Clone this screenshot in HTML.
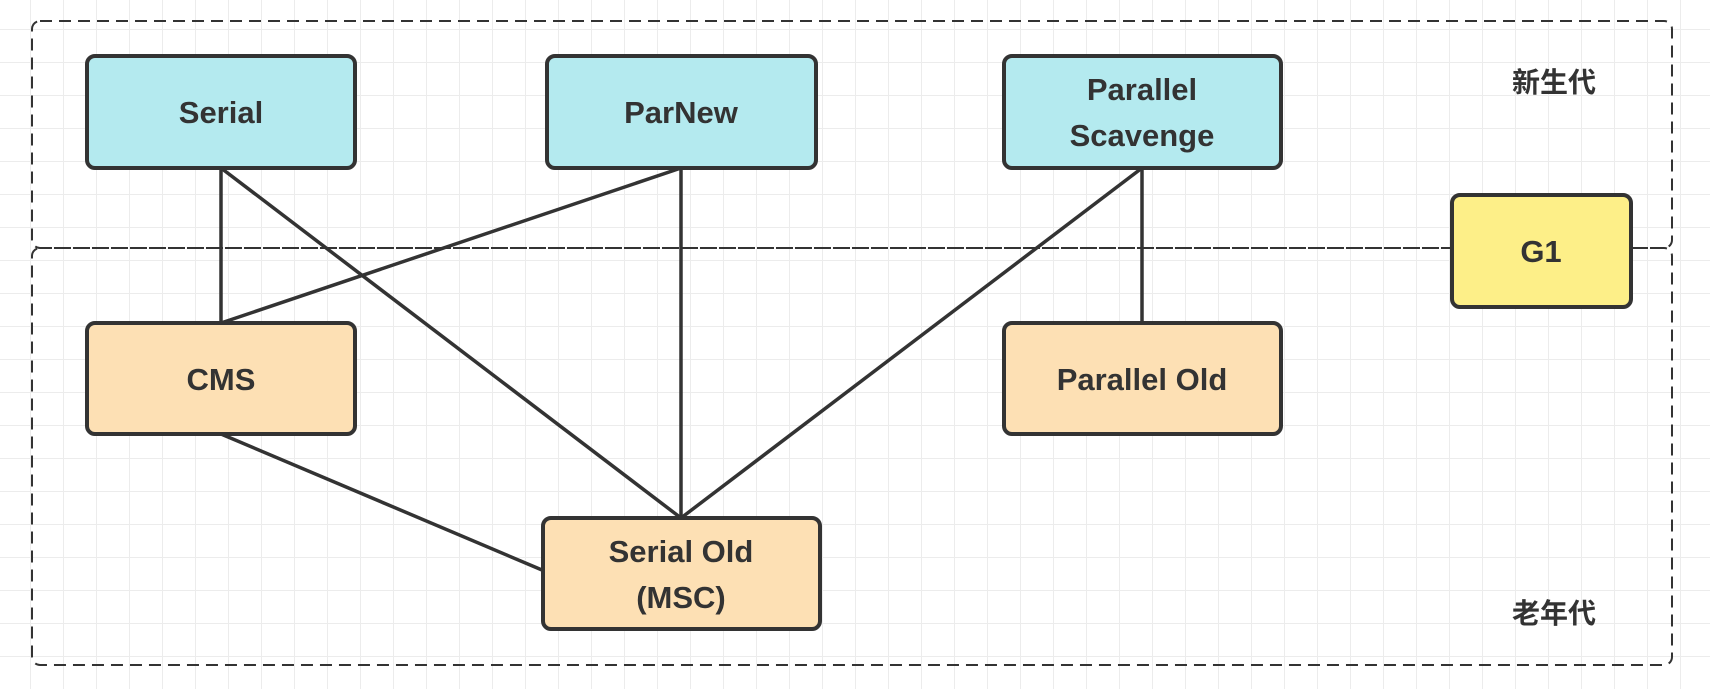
<!DOCTYPE html>
<html><head><meta charset="utf-8"><style>
html,body{margin:0;padding:0;background:#fff}
body{width:1710px;height:689px;overflow:hidden;position:relative;
background-image:linear-gradient(#ececec 1px,transparent 1px),linear-gradient(90deg,#ececec 1px,transparent 1px);
background-size:33px 33px;background-position:30px 29px}
</style></head><body>
<svg width="1710" height="689" style="position:absolute;left:0;top:0" font-family="'Comic Sans MS','Liberation Sans',sans-serif">
<g fill="none" stroke="#333" stroke-width="2" stroke-dasharray="12,7">
<rect x="32" y="21" width="1640" height="227" rx="8"/>
<rect x="32" y="248" width="1640" height="417" rx="8"/>
</g>
<g stroke="#333" stroke-width="3.5" fill="none">
<line x1="221" y1="168" x2="221" y2="323"/>
<line x1="221" y1="168" x2="681" y2="518"/>
<line x1="681" y1="168" x2="221" y2="323"/>
<line x1="681" y1="168" x2="681" y2="518"/>
<line x1="1142" y1="168" x2="681" y2="518"/>
<line x1="1142" y1="168" x2="1142" y2="323"/>
<line x1="221" y1="434" x2="542" y2="570"/>
</g>
<g stroke="#333" stroke-width="4">
<rect x="87" y="56" width="268" height="112" rx="8" fill="#b4eaef"/>
<rect x="547" y="56" width="269" height="112" rx="8" fill="#b4eaef"/>
<rect x="1004" y="56" width="277" height="112" rx="8" fill="#b4eaef"/>
<rect x="87" y="323" width="268" height="111" rx="8" fill="#fde0b4"/>
<rect x="1004" y="323" width="277" height="111" rx="8" fill="#fde0b4"/>
<rect x="543" y="518" width="277" height="111" rx="8" fill="#fde0b4"/>
<rect x="1452" y="195" width="179" height="112" rx="8" fill="#fdef88"/>
</g>
<g fill="#333" font-size="31" font-weight="bold" text-anchor="middle">
<text x="221" y="123">Serial</text>
<text x="681" y="123">ParNew</text>
<text x="1142" y="100">Parallel</text>
<text x="1142" y="146">Scavenge</text>
<text x="221" y="390">CMS</text>
<text x="1142" y="390">Parallel Old</text>
<text x="681" y="562">Serial Old</text>
<text x="681" y="608">(MSC)</text>
<text x="1541" y="262">G1</text>
</g>
<g fill="#333" font-size="28" font-weight="bold" font-family="'Liberation Sans','Noto Sans CJK SC',sans-serif" text-anchor="middle">
<text x="1554" y="92">新生代</text>
<text x="1554" y="623">老年代</text>
</g>
</svg>
</body></html>
